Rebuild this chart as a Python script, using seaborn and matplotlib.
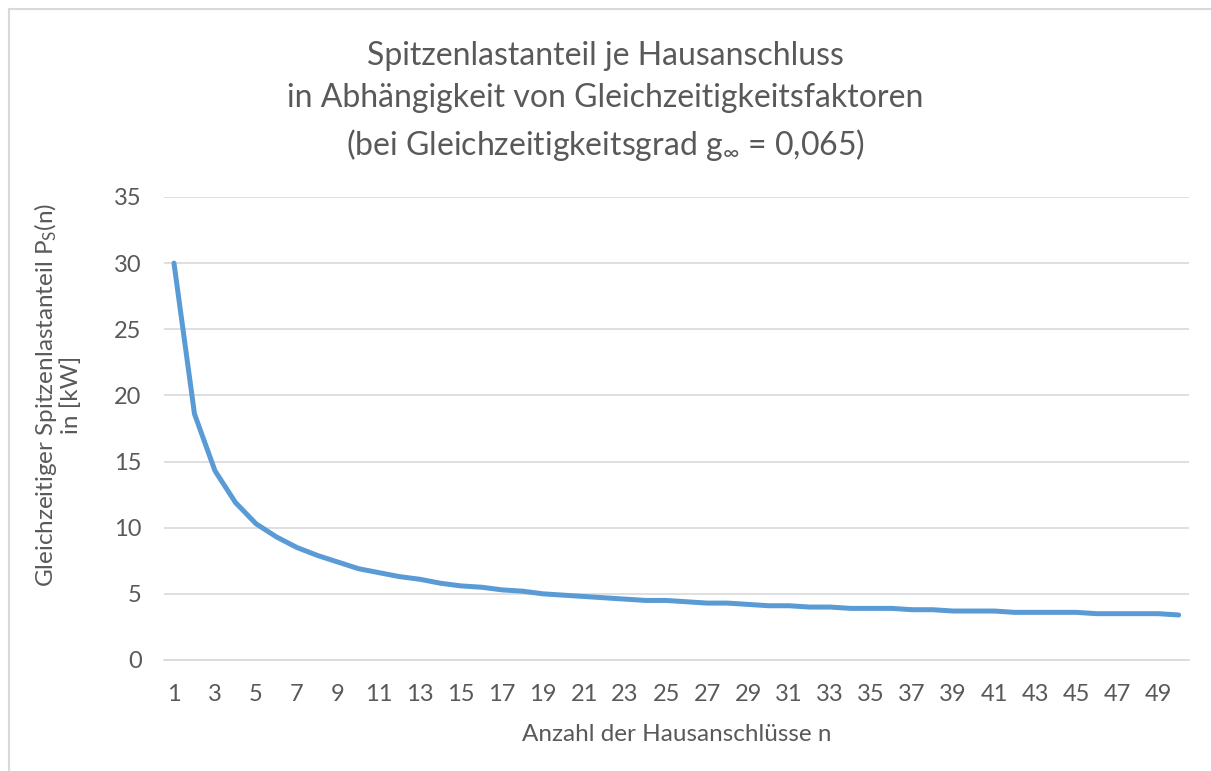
import numpy as np
import pandas as pd
import matplotlib.pyplot as plt
import seaborn as sns
from matplotlib.lines import Line2D

# Werte
anzahl = list(range(1, 51))
spitzenlast = [30.0, 18.6, 14.3, 11.9, 10.3, 9.3, 8.5, 7.9, 7.4, 6.9,
               6.6, 6.3, 6.1, 5.8, 5.6, 5.5, 5.3, 5.2, 5.0, 4.9,
               4.8, 4.7, 4.6, 4.5, 4.5, 4.4, 4.3, 4.3, 4.2, 4.1,
               4.1, 4.0, 4.0, 3.9, 3.9, 3.9, 3.8, 3.8, 3.7, 3.7,
               3.7, 3.6, 3.6, 3.6, 3.6, 3.5, 3.5, 3.5, 3.5, 3.4]
y_ticks = [0, 5, 10, 15, 20, 25, 30, 35]
x_ticks = list(range(1, 51, 2))

df = pd.DataFrame({'n': anzahl, 'P': spitzenlast})

sns.set_style('white')
plt.rcParams['font.family'] = ['Lato', 'DejaVu Sans']
plt.rcParams['mathtext.fontset'] = 'custom'
plt.rcParams['mathtext.rm'] = 'Lato'
plt.rcParams['mathtext.it'] = 'Lato'

grau = '#595959'
linie = '#D9D9D9'

fig = plt.figure(figsize=(12.11, 7.71), dpi=100)
ax = fig.add_axes([0.1352, 0.144, 0.8466, 0.6005])

sns.lineplot(data=df, x='n', y='P', ax=ax, color='#5B9BD5', linewidth=3.6)

ax.set_xlim(0.5, 50.5)
ax.set_ylim(0, 35)
ax.set_yticks(y_ticks)
ax.set_xticks(x_ticks)
ax.set_xticks(np.arange(0.5, 51, 1), minor=True)
ax.grid(axis='y', color=linie, linewidth=1.2)
ax.set_axisbelow(True)

for s in ['top', 'right', 'left']:
    ax.spines[s].set_visible(False)
ax.spines['bottom'].set_color(linie)
ax.spines['bottom'].set_linewidth(1.2)

ax.tick_params(axis='x', which='major', length=0, pad=17, labelsize=17, labelcolor=grau)
ax.tick_params(axis='x', which='minor', length=6, color=linie, width=1)
ax.tick_params(axis='y', length=0, pad=16, labelsize=17, labelcolor=grau)

ax.set_xlabel('Anzahl der Hausanschlüsse n', fontsize=17.5, color=grau, labelpad=14)
ax.set_ylabel('')

fig.text(0.047, 0.488, 'Gleichzeitiger Spitzenlastanteil P$_\\mathrm{S}$(n)\nin [kW]',
         rotation=90, ha='center', va='center', fontsize=17.5, color=grau,
         multialignment='center', linespacing=1.05)

fig.text(0.5, 0.868,
         'Spitzenlastanteil je Hausanschluss\n'
         'in Abhängigkeit von Gleichzeitigkeitsfaktoren\n'
         '(bei Gleichzeitigkeitsgrad g$_\\infty$ = 0,065)',
         ha='center', va='center', fontsize=23, color=grau, linespacing=1.5)

# Rahmen oben und links
fig.add_artist(Line2D([9 / 1211, 1], [1 - 9 / 771, 1 - 9 / 771], color=linie, linewidth=1.5,
                      transform=fig.transFigure))
fig.add_artist(Line2D([9 / 1211, 9 / 1211], [0, 1 - 9 / 771], color=linie, linewidth=1.5,
                      transform=fig.transFigure))

plt.savefig('out.png', dpi=100)
